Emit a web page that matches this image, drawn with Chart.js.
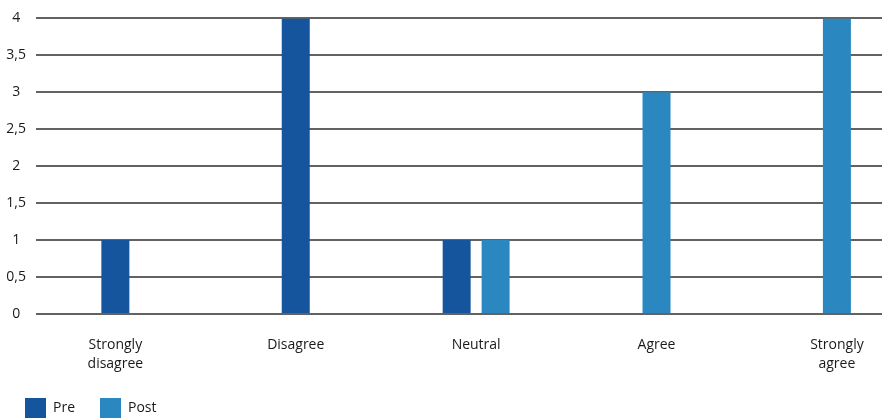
<!DOCTYPE html>
<html>
<head>
<meta charset="utf-8">
<script src="https://cdn.jsdelivr.net/npm/chart.js@4"></script>
<style>
html,body{margin:0;padding:0;background:#fff;}
#wrap{width:890px;height:420px;}
</style>
</head>
<body>
<div id="wrap"><canvas id="c" width="890" height="420"></canvas></div>
<script>
const categories = [["Strongly", "disagree"], "Disagree", "Neutral", "Agree", ["Strongly", "agree"]];
const preValues = [1, 4, 1, 0, 0];
const postValues = [0, 0, 1, 3, 4];
const yTicks = [0, 0.5, 1, 1.5, 2, 2.5, 3, 3.5, 4];
const seriesNames = ["Pre", "Post"];

const toPoints = (vals) => vals.map((v, i) => ({ x: i, y: v === 0 ? null : v }));
const FONT = "'Open Sans', 'Liberation Sans', sans-serif";

new Chart(document.getElementById('c'), {
  type: 'bar',
  data: {
    datasets: [
      { label: seriesNames[0], data: toPoints(preValues), backgroundColor: '#15559e', borderWidth: 0 },
      { label: seriesNames[1], data: toPoints(postValues), backgroundColor: '#2b87c0', borderWidth: 0 }
    ]
  },
  options: {
    responsive: false,
    animation: false,
    skipNull: true,
    categoryPercentage: 0.432,
    barPercentage: 0.718,
    maxBarThickness: 28,
    layout: { padding: { left: 0, right: 8, top: 17, bottom: -8 } },
    plugins: {
      tooltip: { enabled: false },
      legend: {
        position: 'bottom',
        align: 'start',
        labels: {
          boxWidth: 21, boxHeight: 20, padding: 25,
          color: '#1a1a1a',
          font: { family: FONT, size: 14 }
        }
      }
    },
    scales: {
      x: {
        type: 'linear',
        offset: false,
        min: -0.44,
        max: 4.25,
        grid: { display: false, drawTicks: false, offset: false },
        border: { display: false },
        afterBuildTicks: (axis) => { axis.ticks = categories.map((c, i) => ({ value: i })); },
        afterFit: (axis) => { axis.height = 59; },
        ticks: {
          autoSkip: false,
          maxRotation: 0,
          padding: 21,
          color: '#1a1a1a',
          font: { family: FONT, size: 14, lineHeight: 1.4 },
          callback: (v) => categories[v]
        }
      },
      y: {
        min: 0,
        max: 4,
        afterBuildTicks: (axis) => { axis.ticks = yTicks.map(v => ({ value: v })); },
        afterFit: (axis) => { axis.width = 36; },
        grid: { color: '#626262', lineWidth: 2, drawTicks: false },
        border: { display: false },
        ticks: {
          crossAlign: 'center',
          padding: 10,
          color: '#1a1a1a',
          font: { family: FONT, size: 14 },
          callback: (v) => String(v).replace('.', ',')
        }
      }
    }
  }
});
</script>
</body>
</html>
